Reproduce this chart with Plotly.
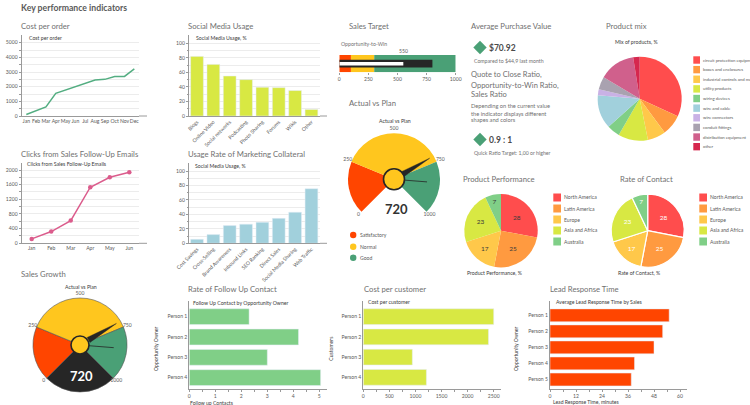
import plotly.graph_objects as go

W, H = 750, 405
FONT = "Lato"
C_TXT, C_TITLE, C_DARK = "#5a5a5a", "#707070", "#3a3a3a"
GRID, AXIS = "#ececec", "#9a9a9a"
RED, ORANGE, YELLOW, LIME, GREEN, BLUE = "#FF4D4D", "#FF9A40", "#FFC84A", "#D8E843", "#80CF87", "#A1D0DC"
ORED, GOLD, DGREEN, BLACK = "#FF4500", "#FFC61E", "#4AA076", "#262626"
TICK, INNER, SECTION = 5.1, 5.2, 7.7

# ---------- data ----------
months = ["Jan", "Feb", "Mar", "Apr", "May", "Jun", "Jul", "Aug", "Sep", "Oct", "Nov", "Dec"]
cost_per_order = [100, 350, 620, 1550, 1780, 1960, 2220, 2460, 2500, 2700, 2700, 3220]
clicks_months = ["Jan", "Feb", "Mar", "Apr", "May", "Jun"]
clicks = [120, 320, 620, 1530, 1800, 1940]
social_cats = ["Blogs", "Online Video", "Social networks", "Podcasting", "Photo Sharing", "Forums", "Wikis", "Other"]
social_vals = [82, 71, 55, 50, 39.5, 39, 35, 9]
collateral_cats = ["Cost Savings", "Cross-Selling", "Brand Awareness", "Inbound Links", "SEO Ranking",
                   "Direct Sales", "Social Media Sharing", "Web Traffic"]
collateral_vals = [5.5, 12, 24.5, 26.5, 29, 34.5, 43, 75.5]
bullet_bands = [100, 200, 700]
bullet_band_colors = [ORED, GOLD, DGREEN]
bullet_target = 800
bullet_actual = 550
gauge_edges = [0, 250, 750, 1000]
gauge_colors = [ORED, GOLD, DGREEN]
gauge_value = 720
gauge_second = 850
gauge_ticks = [0, 250, 500, 750, 1000]
region_names = ["North America", "Latin America", "Europe", "Asia and Africa", "Australia"]
region_perf = [28, 25, 17, 23, 7]
region_contact = [28, 25, 17, 23, 7]
region_colors = [RED, ORANGE, YELLOW, LIME, GREEN]
mix_names = ["circuit protection equipment", "boxes and enclosures", "industrial controls and motors",
             "utility products", "wiring devices", "wire and cable", "wire connectors", "conduit fittings",
             "distribution equipment", "other"]
mix_vals = [32, 8, 7, 11.5, 5, 13, 2.3, 5, 14, 2.5]
mix_colors = [RED, ORANGE, YELLOW, LIME, GREEN, BLUE, "#C9B1E5", "#A9A2B0", "#D0608C", "#D6274E"]
persons4 = ["Person 1", "Person 2", "Person 3", "Person 4"]
persons5 = ["Person 1", "Person 2", "Person 3", "Person 4", "Person 5"]
followup = [2.3, 4.2, 3.0, 5.05]
cust_cost = [2500, 2400, 940, 1210]
lead_time = [55, 52, 48, 39, 37.5]

fig = go.Figure()
layout = dict(width=W, height=H, margin=dict(l=0, r=0, t=0, b=0, pad=0, autoexpand=False), autosize=False,
              paper_bgcolor="white", plot_bgcolor="white", showlegend=False,
              font=dict(family=FONT, size=6, color=C_TXT), barmode="overlay", hovermode=False)
annots, shapes = [], []
px = lambda x: x / W
py = lambda y: 1 - y / H


def text(x, y, s, size=6, color=C_TXT, anchor="left", bold=False, angle=0):
    annots.append(dict(x=px(x), y=py(y), xref="paper", yref="paper", text=f"<b>{s}</b>" if bold else s,
                       showarrow=False, xanchor=anchor, yanchor="middle", textangle=angle,
                       font=dict(size=size, color=color, family=FONT), borderpad=0, borderwidth=0))


def title(x, y, s):
    text(x, y, s, size=SECTION, color=C_TITLE)


def hline(x0, x1, y):
    shapes.append(dict(type="line", xref="paper", yref="paper", x0=px(x0), x1=px(x1), y0=py(y), y1=py(y),
                       line=dict(color=AXIS, width=1)))


axis_n = [0]


def axes(x0, x1, ytop, ybot, xa, ya):
    axis_n[0] += 1
    n = axis_n[0]
    s = "" if n == 1 else str(n)
    base = dict(showline=True, linecolor=AXIS, linewidth=1, tickfont=dict(size=TICK, color=C_TXT, family=FONT),
                zeroline=False, tickcolor=AXIS, ticklen=2, automargin=False)
    layout["xaxis" + s] = {**base, "domain": [px(x0), px(x1)], "anchor": "y" + s, **xa}
    layout["yaxis" + s] = {**base, "domain": [py(ybot), py(ytop)], "anchor": "x" + s, **ya}
    return "x" + s, "y" + s


def y_value_axis(maxv, dtick, minor, ytop, ybot, ymaxpx):
    scale = maxv / (ybot - ymaxpx)
    return dict(range=[0, (ybot - ytop) * scale], tickvals=list(range(0, maxv + 1, dtick)), showgrid=True,
                gridcolor=GRID, ticks="outside",
                minor=dict(tickvals=[v for v in range(0, maxv + 1, minor) if v % dtick], showgrid=True,
                           gridcolor=GRID, ticks="outside", ticklen=1.5, tickcolor=AXIS))


def cat_x(c0px, step, x0, x1):
    return dict(type="category", range=[(x0 - c0px) / step, (x1 - c0px) / step], showgrid=False, ticks="",
                showline=True, tickangle=0)


def line_chart(cats, vals, color, c0, step, maxv, dtick, minor, ytop, ybot, ymaxpx, markers):
    x0, x1 = 21.7, 139
    xa, ya = axes(x0, x1, ytop, ybot, cat_x(c0, step, x0, x1), y_value_axis(maxv, dtick, minor, ytop, ybot, ymaxpx))
    fig.add_trace(go.Scatter(x=cats, y=vals, mode="lines+markers" if markers else "lines", xaxis=xa, yaxis=ya,
                             line=dict(color=color, width=1.5), marker=dict(size=4.5, color=color), cliponaxis=False))
    hline(x1, 147, ybot)


def col_chart(cats, vals, color, ytop, ybot, ymaxpx):
    x0, x1 = 189, 320
    xaxis = cat_x(197, 16.35, x0, x1)
    xaxis["tickangle"] = -45
    xa, ya = axes(x0, x1, ytop, ybot, xaxis, y_value_axis(100, 20, 10, ytop, ybot, ymaxpx))
    fig.add_trace(go.Bar(x=cats, y=vals, xaxis=xa, yaxis=ya, marker=dict(color=color), width=0.78))
    hline(x1, 327, ybot)


def hbar(cats, vals, color, x0, x1, maxv, maxpx, dtick, minor, ytop, ybot, c0, step, width):
    scale = maxv / (maxpx - x0)
    xaxis = dict(range=[0, (x1 - x0) * scale], showgrid=False, ticks="outside",
                 tickvals=[i * dtick for i in range(int(maxv / dtick) + 1)],
                 minor=dict(tickvals=[i * minor for i in range(int(maxv / minor) + 1)], ticks="outside",
                            ticklen=2, tickcolor=AXIS))
    yaxis = dict(type="category", range=[(ybot - c0) / step, (ytop - c0) / step], showgrid=False, ticks="")
    xa, ya = axes(x0, x1, ytop, ybot, xaxis, yaxis)
    fig.add_trace(go.Bar(x=vals, y=cats, orientation="h", xaxis=xa, yaxis=ya, marker=dict(color=color), width=width))


def gauge(name, cx, cy, R, hub, full):
    scale = 54.0
    dom = dict(x=[px(cx - scale), px(cx + scale)], y=[py(cy + scale), py(cy - scale)])
    layout[name] = dict(domain=dom, bgcolor="rgba(0,0,0,0)",
                        radialaxis=dict(visible=False, range=[0, scale / R]),
                        angularaxis=dict(visible=False, rotation=90, direction="clockwise"))
    ang = lambda v: -135 + 270 * v / 1000
    outline = dict(color="#555555", width=0.6) if full else dict(width=0)
    for i, col in enumerate(gauge_colors):
        a, b = ang(gauge_edges[i]), ang(gauge_edges[i + 1])
        fig.add_trace(go.Barpolar(r=[1], theta=[(a + b) / 2], width=[b - a], marker=dict(color=col, line=outline),
                                  subplot=name))
    if full:
        fig.add_trace(go.Barpolar(r=[1], theta=[180], width=[90], marker=dict(color=BLACK, line=outline), subplot=name))
    a = ang(gauge_value)
    fig.add_trace(go.Scatterpolar(r=[0.22, 0.9, 0.22, 0.22], theta=[a - 16, a, a + 16, a - 16], mode="lines",
                                  fill="toself", fillcolor=BLACK, line=dict(color=BLACK, width=0.4), subplot=name))
    fig.add_trace(go.Scatterpolar(r=[0, 0.72], theta=[ang(gauge_second)] * 2, mode="lines",
                                  line=dict(color=BLACK, width=0.8), subplot=name))
    fig.add_trace(go.Scatterpolar(r=[0], theta=[0], mode="markers", subplot=name,
                                  marker=dict(size=hub * 2, color=GOLD, line=dict(color=BLACK, width=1.6))))
    fig.add_trace(go.Scatterpolar(r=[1.09] * 5, theta=[ang(v) for v in gauge_ticks], mode="text",
                                  text=[str(v) for v in gauge_ticks], subplot=name, cliponaxis=False,
                                  textfont=dict(size=TICK, color=C_TXT, family=FONT)))


def swatches(x, ys, w, h, colors, names, tx, size=TICK):
    for y, col, nm in zip(ys, colors, names):
        shapes.append(dict(type="rect", xref="paper", yref="paper", x0=px(x), x1=px(x + w), y0=py(y + h / 2),
                           y1=py(y - h / 2), fillcolor=col, line=dict(width=0)))
        text(tx, y, nm, size=size)


def pie(vals, colors, cx, cy, R, border, txtcolor, show_text=True):
    fig.add_trace(go.Pie(values=vals, marker=dict(colors=colors, line=dict(color="white", width=border)), sort=False,
                         direction="clockwise", rotation=0, textinfo="value" if show_text else "none",
                         textposition="inside", insidetextorientation="horizontal",
                         textfont=dict(size=6.5, color=txtcolor, family=FONT),
                         domain=dict(x=[px(cx - R), px(cx + R)], y=[py(cy + R), py(cy - R)])))


def diamond(cx, cy, r):
    path = f"M {px(cx)} {py(cy - r)} L {px(cx + r)} {py(cy)} L {px(cx)} {py(cy + r)} L {px(cx - r)} {py(cy)} Z"
    shapes.append(dict(type="path", xref="paper", yref="paper", path=path, fillcolor=DGREEN, line=dict(width=0)))


# ---------- header and section titles ----------
text(21, 8, "Key performance indicators", size=8.7, color="#5a5a5a", bold=True)
for x, y, s in [(21, 25.7, "Cost per order"), (188, 25.7, "Social Media Usage"), (349, 25.7, "Sales Target"),
                (471, 25.7, "Average Purchase Value"), (606, 25.7, "Product mix"), (349, 103, "Actual vs Plan"),
                (21, 154, "Clicks from Sales Follow-Up Emails"), (188, 154, "Usage Rate of Marketing Collateral"),
                (463, 179, "Product Performance"), (620, 179, "Rate of Contact"), (21, 274, "Sales Growth"),
                (188, 289, "Rate of Follow Up Contact"), (364, 289, "Cost per customer"),
                (550, 289, "Lead Response Time")]:
    title(x, y, s)

# ---------- line and column charts ----------
line_chart(months, cost_per_order, "#54AE82", 26.3, 9.82, 5000, 1000, 500, 35, 116, 42.7, False)
text(29, 38, "Cost per order", size=INNER, color=C_DARK)
col_chart(social_cats, social_vals, LIME, 35, 116, 43.3)
text(196, 38, "Social Media Usage, %", size=INNER, color=C_DARK)
line_chart(clicks_months, clicks, "#DB5C8C", 31.7, 19.52, 2000, 400, 200, 163, 243.3, 170, True)
text(27, 164, "Clicks from Sales Follow-Up Emails", size=INNER, color=C_DARK)
col_chart(collateral_cats, collateral_vals, BLUE, 163, 243.3, 171)
text(195, 165.5, "Social Media Usage, %", size=INNER, color=C_DARK)

# ---------- bullet ----------
bx0, bx1 = 339.3, 455.7
xb, yb = axes(bx0, bx1, 55, 72.3,
              dict(range=[0, 1000], tickvals=[0, 250, 500, 750, 1000], showgrid=False, showline=False, ticks="outside"),
              dict(range=[-0.5, 0.5], visible=False))
left = 0
for band, col in zip(bullet_bands, bullet_band_colors):
    fig.add_trace(go.Bar(x=[band], y=[0], base=[left], orientation="h", width=1, xaxis=xb, yaxis=yb,
                         marker=dict(color=col, line=dict(width=0))))
    left += band
fig.add_trace(go.Bar(x=[bullet_target], y=[0], orientation="h", width=0.45, xaxis=xb, yaxis=yb,
                     marker=dict(color=BLACK, line=dict(width=0))))
fig.add_trace(go.Bar(x=[bullet_actual], y=[0], orientation="h", width=0.2, xaxis=xb, yaxis=yb,
                     marker=dict(color="white", line=dict(width=0))))
text(341, 44, "Opportunity-to-Win", size=INNER, color=C_TITLE)
text(404, 51, str(bullet_actual), size=TICK, anchor="center")

# ---------- gauges ----------
gauge("polar", 394, 179.3, 46, 10.5, False)
text(394.5, 121, "Actual vs Plan", size=INNER, color=C_DARK, anchor="center")
text(396, 209, str(gauge_value), size=13, color="#333333", anchor="center", bold=True)
for y, col, nm in zip([235, 246.7, 257.7], gauge_colors, ["Satisfactory", "Normal", "Good"]):
    shapes.append(dict(type="circle", xref="paper", yref="paper", x0=px(350), x1=px(356.4), y0=py(y + 3.2),
                       y1=py(y - 3.2), fillcolor=col, line=dict(width=0)))
    text(360, y, nm, size=TICK)
gauge("polar2", 80, 345, 47, 9, True)
text(80.7, 287, "Actual vs Plan", size=INNER, color=C_DARK, anchor="center")
text(81, 375.7, str(gauge_value), size=13, color="white", anchor="center", bold=True)

# ---------- pies ----------
pie(mix_vals, mix_colors, 639.7, 98.7, 42, 0, C_DARK, show_text=False)
text(615, 42, "Mix of products, %", size=INNER, color=C_DARK)
swatches(693.3, [60 + 9.63 * i for i in range(10)], 6.7, 7.4, mix_colors, mix_names, 702.7, size=4.3)
pie(region_perf, region_colors, 501, 230.7, 36.7, 0, C_DARK)
swatches(553.3, [197.5 + 11 * i for i in range(5)], 7.7, 8, region_colors, region_names, 564)
text(467, 273, "Product Performance, %", size=INNER, color=C_DARK)
pie(region_contact, region_colors, 647.7, 230.7, 36.5, 1.2, "white")
swatches(699.3, [197.5 + 11 * i for i in range(5)], 7.7, 8, region_colors, region_names, 710)
text(618, 273, "Rate of Contact, %", size=INNER, color=C_DARK)

# ---------- horizontal bars ----------
hbar(persons4, followup, GREEN, 189.3, 326.7, 5, 319.3, 1, 0.5, 301, 389, 316.7, 20.3, 0.78)
text(193, 302.7, "Follow Up Contact by Opportunity Owner", size=INNER, color=C_DARK)
text(190, 402.5, "Follow up Contacts", size=TICK, color=C_DARK)
text(156, 349, "Opportunity Owner", size=TICK, color=C_DARK, anchor="center", angle=-90)

hbar(persons4, cust_cost, LIME, 363.3, 500.7, 2500, 493.7, 500, 250, 301, 389.3, 316.7, 20.2, 0.78)
text(368, 301.7, "Cost per customer", size=INNER, color=C_DARK)
text(330.7, 349, "Customers", size=TICK, color=C_DARK, anchor="center", angle=-90)

hbar(persons5, lead_time, ORED, 550, 686.7, 60, 680, 12, 6, 301, 389, 315.3, 16.05, 0.8)
text(556, 302, "Average Lead Response Time by Sales", size=INNER, color=C_DARK)
text(553, 402.3, "Lead Response Time, minutes", size=TICK, color=C_DARK)
text(516, 349, "Opportunity Owner", size=TICK, color=C_DARK, anchor="center", angle=-90)

# ---------- KPI text ----------
diamond(480, 47.5, 6.7)
text(489, 48, "$70.92", size=8.5, color="#4a4a4a", bold=True)
text(474, 61, "Compared to $44,9 last month", size=5.2, color=C_TITLE)
text(471, 75, "Quote to Close Ratio,", size=7.5, color=C_TITLE)
text(471, 85.3, "Opportunity-to-Win Ratio,", size=7.5, color=C_TITLE)
text(471, 95, "Sales Ratio", size=7.5, color=C_TITLE)
text(471, 105.3, "Depending on the current value", size=5.7, color=C_TITLE)
text(471, 113, "the indicator displays different", size=5.7, color=C_TITLE)
text(471, 119.7, "shapes and colors", size=5.7, color=C_TITLE)
diamond(480, 139.5, 6.7)
text(489, 140, "0.9 : 1", size=8.5, color="#4a4a4a", bold=True)
text(474, 153, "Quick Ratio Target: 1,00 or higher", size=5.2, color=C_TITLE)

layout["annotations"] = annots
layout["shapes"] = shapes
fig.update_layout(**layout)
fig.write_html("out.html", config=dict(displayModeBar=False),
               post_script="document.body.style.margin='0';document.body.style.overflow='hidden';")
